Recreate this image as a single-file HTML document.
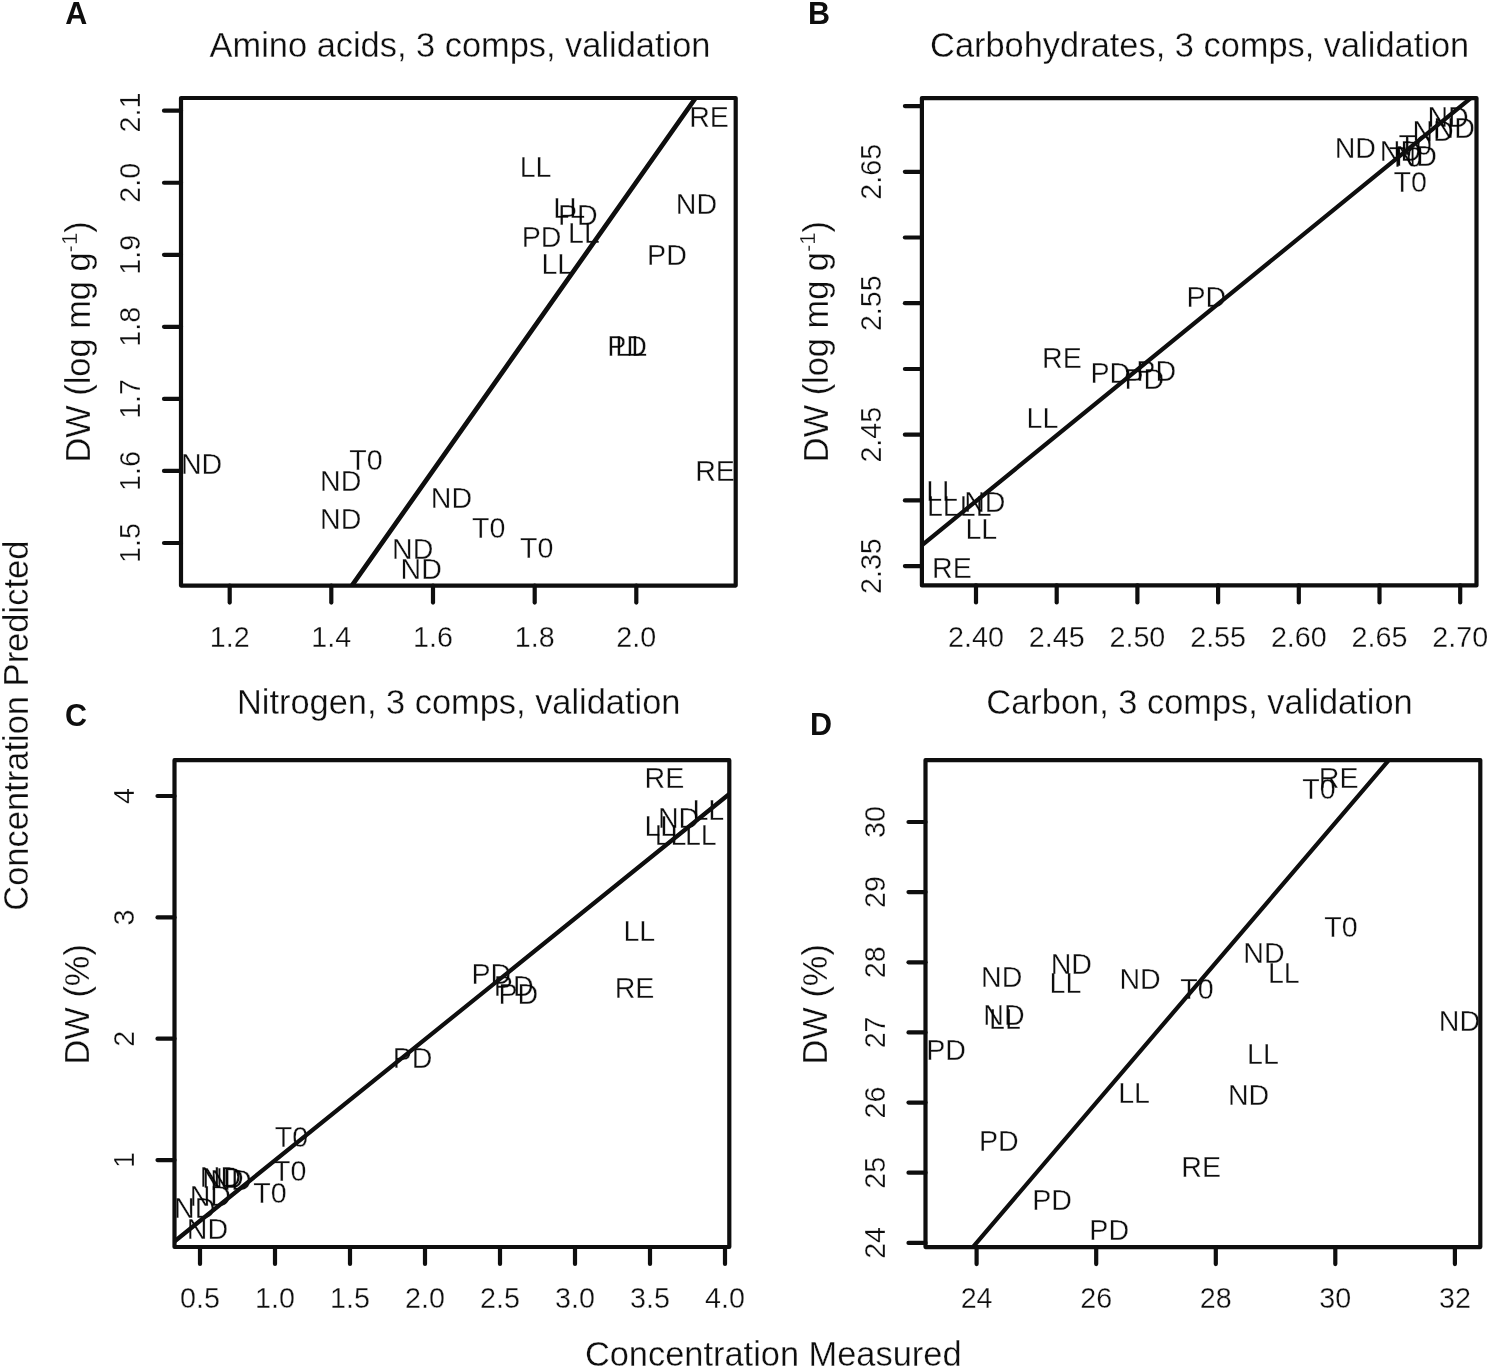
<!DOCTYPE html>
<html><head><meta charset="utf-8"><title>Figure</title>
<style>html,body{margin:0;padding:0;background:#fff}svg{display:block}
text{font-family:"Liberation Sans", sans-serif;fill:#0e0e0e;stroke:#fff;stroke-width:0.3px;paint-order:fill stroke;mix-blend-mode:multiply}line,rect.b{stroke:#0e0e0e}</style></head>
<body><svg width="1487" height="1368" viewBox="0 0 1487 1368">
<rect x="0" y="0" width="1487" height="1368" fill="#fff" stroke="none"/>
<clipPath id="cA"><rect x="181.0" y="98.0" width="554.7" height="487.6"/></clipPath>
<text transform="translate(709.00 126.64) scale(1 1.04)" font-size="28.6" text-anchor="middle">RE</text>
<text transform="translate(535.60 177.24) scale(1 1.04)" font-size="28.6" text-anchor="middle">LL</text>
<text transform="translate(696.40 213.99) scale(1 1.04)" font-size="28.6" text-anchor="middle">ND</text>
<text transform="translate(569.15 218.34) scale(1 1.04)" font-size="28.6" text-anchor="middle">LL</text>
<text transform="translate(577.80 225.29) scale(1 1.04)" font-size="28.6" text-anchor="middle">PD</text>
<text transform="translate(541.50 247.24) scale(1 1.04)" font-size="28.6" text-anchor="middle">PD</text>
<text transform="translate(584.00 243.44) scale(1 1.04)" font-size="28.6" text-anchor="middle">LL</text>
<text transform="translate(666.95 264.84) scale(1 1.04)" font-size="28.6" text-anchor="middle">PD</text>
<text transform="translate(557.35 274.14) scale(1 1.04)" font-size="28.6" text-anchor="middle">LL</text>
<text transform="translate(627.10 356.44) scale(1 1.04)" font-size="28.6" text-anchor="middle">PD</text>
<text transform="translate(631.20 356.34) scale(1 1.04)" font-size="28.6" text-anchor="middle">LL</text>
<text transform="translate(201.60 474.24) scale(1 1.04)" font-size="28.6" text-anchor="middle">ND</text>
<text transform="translate(365.90 470.04) scale(1 1.04)" font-size="28.6" text-anchor="middle">T0</text>
<text transform="translate(340.70 491.04) scale(1 1.04)" font-size="28.6" text-anchor="middle">ND</text>
<text transform="translate(715.00 480.84) scale(1 1.04)" font-size="28.6" text-anchor="middle">RE</text>
<text transform="translate(451.40 508.14) scale(1 1.04)" font-size="28.6" text-anchor="middle">ND</text>
<text transform="translate(340.70 528.84) scale(1 1.04)" font-size="28.6" text-anchor="middle">ND</text>
<text transform="translate(488.80 538.14) scale(1 1.04)" font-size="28.6" text-anchor="middle">T0</text>
<text transform="translate(536.70 558.14) scale(1 1.04)" font-size="28.6" text-anchor="middle">T0</text>
<text transform="translate(412.70 558.94) scale(1 1.04)" font-size="28.6" text-anchor="middle">ND</text>
<text transform="translate(421.20 578.54) scale(1 1.04)" font-size="28.6" text-anchor="middle">ND</text>
<g clip-path="url(#cA)">
<line x1="351.90" y1="585.60" x2="695.60" y2="98.00" stroke-width="4.7" stroke-linecap="round"/>
</g>
<rect x="181.0" y="98.0" width="554.7" height="487.6" fill="none" class="b" stroke-width="4.2" stroke-linejoin="round"/>
<line x1="229.70" y1="585.60" x2="229.70" y2="602.60" stroke-width="4.2" stroke-linecap="round"/>
<text transform="translate(229.70 647.20) scale(1 1.04)" font-size="28.7" text-anchor="middle">1.2</text>
<line x1="331.30" y1="585.60" x2="331.30" y2="602.60" stroke-width="4.2" stroke-linecap="round"/>
<text transform="translate(331.30 647.20) scale(1 1.04)" font-size="28.7" text-anchor="middle">1.4</text>
<line x1="433.00" y1="585.60" x2="433.00" y2="602.60" stroke-width="4.2" stroke-linecap="round"/>
<text transform="translate(433.00 647.20) scale(1 1.04)" font-size="28.7" text-anchor="middle">1.6</text>
<line x1="534.70" y1="585.60" x2="534.70" y2="602.60" stroke-width="4.2" stroke-linecap="round"/>
<text transform="translate(534.70 647.20) scale(1 1.04)" font-size="28.7" text-anchor="middle">1.8</text>
<line x1="636.30" y1="585.60" x2="636.30" y2="602.60" stroke-width="4.2" stroke-linecap="round"/>
<text transform="translate(636.30 647.20) scale(1 1.04)" font-size="28.7" text-anchor="middle">2.0</text>
<line x1="164.00" y1="110.70" x2="181.00" y2="110.70" stroke-width="4.2" stroke-linecap="round"/>
<text transform="translate(140.40 112.50) rotate(-90) scale(1 1.04)" font-size="28.7" text-anchor="middle">2.1</text>
<line x1="164.00" y1="182.75" x2="181.00" y2="182.75" stroke-width="4.2" stroke-linecap="round"/>
<text transform="translate(140.40 182.75) rotate(-90) scale(1 1.04)" font-size="28.7" text-anchor="middle">2.0</text>
<line x1="164.00" y1="254.80" x2="181.00" y2="254.80" stroke-width="4.2" stroke-linecap="round"/>
<text transform="translate(140.40 254.80) rotate(-90) scale(1 1.04)" font-size="28.7" text-anchor="middle">1.9</text>
<line x1="164.00" y1="326.85" x2="181.00" y2="326.85" stroke-width="4.2" stroke-linecap="round"/>
<text transform="translate(140.40 326.85) rotate(-90) scale(1 1.04)" font-size="28.7" text-anchor="middle">1.8</text>
<line x1="164.00" y1="398.90" x2="181.00" y2="398.90" stroke-width="4.2" stroke-linecap="round"/>
<text transform="translate(140.40 398.90) rotate(-90) scale(1 1.04)" font-size="28.7" text-anchor="middle">1.7</text>
<line x1="164.00" y1="470.95" x2="181.00" y2="470.95" stroke-width="4.2" stroke-linecap="round"/>
<text transform="translate(140.40 470.95) rotate(-90) scale(1 1.04)" font-size="28.7" text-anchor="middle">1.6</text>
<line x1="164.00" y1="543.00" x2="181.00" y2="543.00" stroke-width="4.2" stroke-linecap="round"/>
<text transform="translate(140.40 543.00) rotate(-90) scale(1 1.04)" font-size="28.7" text-anchor="middle">1.5</text>
<text transform="translate(460.00 57.20)" font-size="34.4" text-anchor="middle">Amino acids, 3 comps, validation</text>
<text transform="translate(90.00 342.00) rotate(-90)" font-size="34.4" text-anchor="middle">DW (log mg g<tspan dy="-13" font-size="22">-1</tspan><tspan dy="13">)</tspan></text>
<text transform="translate(65.30 24.40)" font-size="30.5" text-anchor="start" font-weight="bold" stroke="none" style="stroke:none">A</text>
<clipPath id="cB"><rect x="921.9" y="98.1" width="554.6" height="487.29999999999995"/></clipPath>
<text transform="translate(1448.10 126.74) scale(1 1.04)" font-size="28.6" text-anchor="middle">ND</text>
<text transform="translate(1433.10 140.54) scale(1 1.04)" font-size="28.6" text-anchor="middle">ND</text>
<text transform="translate(1454.20 138.14) scale(1 1.04)" font-size="28.6" text-anchor="middle">ND</text>
<text transform="translate(1355.30 158.04) scale(1 1.04)" font-size="28.6" text-anchor="middle">ND</text>
<text transform="translate(1415.20 154.64) scale(1 1.04)" font-size="28.6" text-anchor="middle">T0</text>
<text transform="translate(1405.40 167.24) scale(1 1.04)" font-size="28.6" text-anchor="middle">T0</text>
<text transform="translate(1400.50 161.14) scale(1 1.04)" font-size="28.6" text-anchor="middle">ND</text>
<text transform="translate(1416.20 165.64) scale(1 1.04)" font-size="28.6" text-anchor="middle">ND</text>
<text transform="translate(1410.10 191.74) scale(1 1.04)" font-size="28.6" text-anchor="middle">T0</text>
<text transform="translate(1206.30 307.24) scale(1 1.04)" font-size="28.6" text-anchor="middle">PD</text>
<text transform="translate(1061.85 367.94) scale(1 1.04)" font-size="28.6" text-anchor="middle">RE</text>
<text transform="translate(1110.30 383.04) scale(1 1.04)" font-size="28.6" text-anchor="middle">PD</text>
<text transform="translate(1156.20 381.24) scale(1 1.04)" font-size="28.6" text-anchor="middle">PD</text>
<text transform="translate(1144.40 388.64) scale(1 1.04)" font-size="28.6" text-anchor="middle">PD</text>
<text transform="translate(1042.45 428.44) scale(1 1.04)" font-size="28.6" text-anchor="middle">LL</text>
<text transform="translate(942.10 501.24) scale(1 1.04)" font-size="28.6" text-anchor="middle">LL</text>
<text transform="translate(984.80 511.99) scale(1 1.04)" font-size="28.6" text-anchor="middle">ND</text>
<text transform="translate(942.80 515.74) scale(1 1.04)" font-size="28.6" text-anchor="middle">LL</text>
<text transform="translate(975.70 515.74) scale(1 1.04)" font-size="28.6" text-anchor="middle">LL</text>
<text transform="translate(981.30 538.94) scale(1 1.04)" font-size="28.6" text-anchor="middle">LL</text>
<text transform="translate(951.85 577.94) scale(1 1.04)" font-size="28.6" text-anchor="middle">RE</text>
<g clip-path="url(#cB)">
<line x1="921.80" y1="545.30" x2="1470.80" y2="98.10" stroke-width="4.2" stroke-linecap="round"/>
</g>
<rect x="921.9" y="98.1" width="554.6" height="487.29999999999995" fill="none" class="b" stroke-width="4.2" stroke-linejoin="round"/>
<line x1="976.00" y1="585.40" x2="976.00" y2="602.40" stroke-width="4.2" stroke-linecap="round"/>
<text transform="translate(976.00 647.20) scale(1 1.04)" font-size="28.7" text-anchor="middle">2.40</text>
<line x1="1056.70" y1="585.40" x2="1056.70" y2="602.40" stroke-width="4.2" stroke-linecap="round"/>
<text transform="translate(1056.70 647.20) scale(1 1.04)" font-size="28.7" text-anchor="middle">2.45</text>
<line x1="1137.40" y1="585.40" x2="1137.40" y2="602.40" stroke-width="4.2" stroke-linecap="round"/>
<text transform="translate(1137.40 647.20) scale(1 1.04)" font-size="28.7" text-anchor="middle">2.50</text>
<line x1="1218.10" y1="585.40" x2="1218.10" y2="602.40" stroke-width="4.2" stroke-linecap="round"/>
<text transform="translate(1218.10 647.20) scale(1 1.04)" font-size="28.7" text-anchor="middle">2.55</text>
<line x1="1298.80" y1="585.40" x2="1298.80" y2="602.40" stroke-width="4.2" stroke-linecap="round"/>
<text transform="translate(1298.80 647.20) scale(1 1.04)" font-size="28.7" text-anchor="middle">2.60</text>
<line x1="1379.50" y1="585.40" x2="1379.50" y2="602.40" stroke-width="4.2" stroke-linecap="round"/>
<text transform="translate(1379.50 647.20) scale(1 1.04)" font-size="28.7" text-anchor="middle">2.65</text>
<line x1="1460.20" y1="585.40" x2="1460.20" y2="602.40" stroke-width="4.2" stroke-linecap="round"/>
<text transform="translate(1460.20 647.20) scale(1 1.04)" font-size="28.7" text-anchor="middle">2.70</text>
<line x1="904.90" y1="106.10" x2="921.90" y2="106.10" stroke-width="4.2" stroke-linecap="round"/>
<line x1="904.90" y1="171.80" x2="921.90" y2="171.80" stroke-width="4.2" stroke-linecap="round"/>
<text transform="translate(880.60 171.80) rotate(-90) scale(1 1.04)" font-size="28.7" text-anchor="middle">2.65</text>
<line x1="904.90" y1="237.50" x2="921.90" y2="237.50" stroke-width="4.2" stroke-linecap="round"/>
<line x1="904.90" y1="303.20" x2="921.90" y2="303.20" stroke-width="4.2" stroke-linecap="round"/>
<text transform="translate(880.60 303.20) rotate(-90) scale(1 1.04)" font-size="28.7" text-anchor="middle">2.55</text>
<line x1="904.90" y1="369.00" x2="921.90" y2="369.00" stroke-width="4.2" stroke-linecap="round"/>
<line x1="904.90" y1="434.70" x2="921.90" y2="434.70" stroke-width="4.2" stroke-linecap="round"/>
<text transform="translate(880.60 434.70) rotate(-90) scale(1 1.04)" font-size="28.7" text-anchor="middle">2.45</text>
<line x1="904.90" y1="500.40" x2="921.90" y2="500.40" stroke-width="4.2" stroke-linecap="round"/>
<line x1="904.90" y1="566.10" x2="921.90" y2="566.10" stroke-width="4.2" stroke-linecap="round"/>
<text transform="translate(880.60 566.10) rotate(-90) scale(1 1.04)" font-size="28.7" text-anchor="middle">2.35</text>
<text transform="translate(1199.60 57.30)" font-size="34.4" text-anchor="middle">Carbohydrates, 3 comps, validation</text>
<text transform="translate(827.80 341.60) rotate(-90)" font-size="34.4" text-anchor="middle">DW (log mg g<tspan dy="-13" font-size="22">-1</tspan><tspan dy="13">)</tspan></text>
<text transform="translate(807.90 24.40)" font-size="30.5" text-anchor="start" font-weight="bold" stroke="none" style="stroke:none">B</text>
<clipPath id="cC"><rect x="174.5" y="760.2" width="554.8" height="486.79999999999995"/></clipPath>
<text transform="translate(664.35 788.29) scale(1 1.04)" font-size="28.6" text-anchor="middle">RE</text>
<text transform="translate(708.30 820.24) scale(1 1.04)" font-size="28.6" text-anchor="middle">LL</text>
<text transform="translate(678.60 828.24) scale(1 1.04)" font-size="28.6" text-anchor="middle">ND</text>
<text transform="translate(660.30 836.24) scale(1 1.04)" font-size="28.6" text-anchor="middle">LL</text>
<text transform="translate(670.60 844.94) scale(1 1.04)" font-size="28.6" text-anchor="middle">LL</text>
<text transform="translate(700.80 844.94) scale(1 1.04)" font-size="28.6" text-anchor="middle">LL</text>
<text transform="translate(639.30 941.24) scale(1 1.04)" font-size="28.6" text-anchor="middle">LL</text>
<text transform="translate(491.40 984.44) scale(1 1.04)" font-size="28.6" text-anchor="middle">PD</text>
<text transform="translate(513.70 995.84) scale(1 1.04)" font-size="28.6" text-anchor="middle">PD</text>
<text transform="translate(518.30 1003.64) scale(1 1.04)" font-size="28.6" text-anchor="middle">PD</text>
<text transform="translate(634.55 998.14) scale(1 1.04)" font-size="28.6" text-anchor="middle">RE</text>
<text transform="translate(412.50 1067.84) scale(1 1.04)" font-size="28.6" text-anchor="middle">PD</text>
<text transform="translate(291.50 1146.94) scale(1 1.04)" font-size="28.6" text-anchor="middle">T0</text>
<text transform="translate(289.60 1181.14) scale(1 1.04)" font-size="28.6" text-anchor="middle">T0</text>
<text transform="translate(270.00 1202.94) scale(1 1.04)" font-size="28.6" text-anchor="middle">T0</text>
<text transform="translate(220.50 1186.54) scale(1 1.04)" font-size="28.6" text-anchor="middle">ND</text>
<text transform="translate(223.00 1187.74) scale(1 1.04)" font-size="28.6" text-anchor="middle">ND</text>
<text transform="translate(230.90 1190.24) scale(1 1.04)" font-size="28.6" text-anchor="middle">ND</text>
<text transform="translate(210.30 1206.44) scale(1 1.04)" font-size="28.6" text-anchor="middle">ND</text>
<text transform="translate(194.70 1218.24) scale(1 1.04)" font-size="28.6" text-anchor="middle">ND</text>
<text transform="translate(207.40 1239.04) scale(1 1.04)" font-size="28.6" text-anchor="middle">ND</text>
<g clip-path="url(#cC)">
<line x1="174.40" y1="1241.50" x2="729.30" y2="794.00" stroke-width="4.2" stroke-linecap="round"/>
</g>
<rect x="174.5" y="760.2" width="554.8" height="486.79999999999995" fill="none" class="b" stroke-width="4.2" stroke-linejoin="round"/>
<line x1="200.00" y1="1247.00" x2="200.00" y2="1264.00" stroke-width="4.2" stroke-linecap="round"/>
<text transform="translate(200.00 1308.40) scale(1 1.04)" font-size="28.7" text-anchor="middle">0.5</text>
<line x1="275.00" y1="1247.00" x2="275.00" y2="1264.00" stroke-width="4.2" stroke-linecap="round"/>
<text transform="translate(275.00 1308.40) scale(1 1.04)" font-size="28.7" text-anchor="middle">1.0</text>
<line x1="350.00" y1="1247.00" x2="350.00" y2="1264.00" stroke-width="4.2" stroke-linecap="round"/>
<text transform="translate(350.00 1308.40) scale(1 1.04)" font-size="28.7" text-anchor="middle">1.5</text>
<line x1="425.00" y1="1247.00" x2="425.00" y2="1264.00" stroke-width="4.2" stroke-linecap="round"/>
<text transform="translate(425.00 1308.40) scale(1 1.04)" font-size="28.7" text-anchor="middle">2.0</text>
<line x1="500.00" y1="1247.00" x2="500.00" y2="1264.00" stroke-width="4.2" stroke-linecap="round"/>
<text transform="translate(500.00 1308.40) scale(1 1.04)" font-size="28.7" text-anchor="middle">2.5</text>
<line x1="575.00" y1="1247.00" x2="575.00" y2="1264.00" stroke-width="4.2" stroke-linecap="round"/>
<text transform="translate(575.00 1308.40) scale(1 1.04)" font-size="28.7" text-anchor="middle">3.0</text>
<line x1="650.00" y1="1247.00" x2="650.00" y2="1264.00" stroke-width="4.2" stroke-linecap="round"/>
<text transform="translate(650.00 1308.40) scale(1 1.04)" font-size="28.7" text-anchor="middle">3.5</text>
<line x1="725.00" y1="1247.00" x2="725.00" y2="1264.00" stroke-width="4.2" stroke-linecap="round"/>
<text transform="translate(725.00 1308.40) scale(1 1.04)" font-size="28.7" text-anchor="middle">4.0</text>
<line x1="157.50" y1="796.00" x2="174.50" y2="796.00" stroke-width="4.2" stroke-linecap="round"/>
<text transform="translate(134.00 796.00) rotate(-90) scale(1 1.04)" font-size="28.7" text-anchor="middle">4</text>
<line x1="157.50" y1="917.40" x2="174.50" y2="917.40" stroke-width="4.2" stroke-linecap="round"/>
<text transform="translate(134.00 917.40) rotate(-90) scale(1 1.04)" font-size="28.7" text-anchor="middle">3</text>
<line x1="157.50" y1="1038.70" x2="174.50" y2="1038.70" stroke-width="4.2" stroke-linecap="round"/>
<text transform="translate(134.00 1038.70) rotate(-90) scale(1 1.04)" font-size="28.7" text-anchor="middle">2</text>
<line x1="157.50" y1="1160.10" x2="174.50" y2="1160.10" stroke-width="4.2" stroke-linecap="round"/>
<text transform="translate(134.00 1160.10) rotate(-90) scale(1 1.04)" font-size="28.7" text-anchor="middle">1</text>
<text transform="translate(458.70 713.50)" font-size="34.4" text-anchor="middle">Nitrogen, 3 comps, validation</text>
<text transform="translate(88.60 1004.30) rotate(-90)" font-size="34.4" text-anchor="middle">DW (%)</text>
<text transform="translate(64.90 725.90)" font-size="30.5" text-anchor="start" font-weight="bold" stroke="none" style="stroke:none">C</text>
<clipPath id="cD"><rect x="925.5" y="760.1" width="554.8" height="486.9999999999999"/></clipPath>
<text transform="translate(1338.65 787.74) scale(1 1.04)" font-size="28.6" text-anchor="middle">RE</text>
<text transform="translate(1319.00 798.74) scale(1 1.04)" font-size="28.6" text-anchor="middle">T0</text>
<text transform="translate(1340.90 937.44) scale(1 1.04)" font-size="28.6" text-anchor="middle">T0</text>
<text transform="translate(1264.00 962.64) scale(1 1.04)" font-size="28.6" text-anchor="middle">ND</text>
<text transform="translate(1071.30 973.84) scale(1 1.04)" font-size="28.6" text-anchor="middle">ND</text>
<text transform="translate(1001.70 986.84) scale(1 1.04)" font-size="28.6" text-anchor="middle">ND</text>
<text transform="translate(1065.50 993.24) scale(1 1.04)" font-size="28.6" text-anchor="middle">LL</text>
<text transform="translate(1140.05 988.64) scale(1 1.04)" font-size="28.6" text-anchor="middle">ND</text>
<text transform="translate(1283.80 982.94) scale(1 1.04)" font-size="28.6" text-anchor="middle">LL</text>
<text transform="translate(1196.90 998.74) scale(1 1.04)" font-size="28.6" text-anchor="middle">T0</text>
<text transform="translate(1003.90 1024.94) scale(1 1.04)" font-size="28.6" text-anchor="middle">ND</text>
<text transform="translate(1005.00 1028.54) scale(1 1.04)" font-size="28.6" text-anchor="middle">LL</text>
<text transform="translate(1459.50 1030.94) scale(1 1.04)" font-size="28.6" text-anchor="middle">ND</text>
<text transform="translate(946.00 1059.54) scale(1 1.04)" font-size="28.6" text-anchor="middle">PD</text>
<text transform="translate(1263.00 1063.94) scale(1 1.04)" font-size="28.6" text-anchor="middle">LL</text>
<text transform="translate(1134.10 1103.34) scale(1 1.04)" font-size="28.6" text-anchor="middle">LL</text>
<text transform="translate(1248.55 1105.34) scale(1 1.04)" font-size="28.6" text-anchor="middle">ND</text>
<text transform="translate(998.80 1151.14) scale(1 1.04)" font-size="28.6" text-anchor="middle">PD</text>
<text transform="translate(1201.10 1176.84) scale(1 1.04)" font-size="28.6" text-anchor="middle">RE</text>
<text transform="translate(1052.00 1209.54) scale(1 1.04)" font-size="28.6" text-anchor="middle">PD</text>
<text transform="translate(1109.20 1239.64) scale(1 1.04)" font-size="28.6" text-anchor="middle">PD</text>
<g clip-path="url(#cD)">
<line x1="972.90" y1="1247.10" x2="1389.00" y2="759.90" stroke-width="4.2" stroke-linecap="round"/>
</g>
<rect x="925.5" y="760.1" width="554.8" height="486.9999999999999" fill="none" class="b" stroke-width="4.2" stroke-linejoin="round"/>
<line x1="976.60" y1="1247.10" x2="976.60" y2="1264.10" stroke-width="4.2" stroke-linecap="round"/>
<text transform="translate(976.60 1308.40) scale(1 1.04)" font-size="28.7" text-anchor="middle">24</text>
<line x1="1096.20" y1="1247.10" x2="1096.20" y2="1264.10" stroke-width="4.2" stroke-linecap="round"/>
<text transform="translate(1096.20 1308.40) scale(1 1.04)" font-size="28.7" text-anchor="middle">26</text>
<line x1="1215.80" y1="1247.10" x2="1215.80" y2="1264.10" stroke-width="4.2" stroke-linecap="round"/>
<text transform="translate(1215.80 1308.40) scale(1 1.04)" font-size="28.7" text-anchor="middle">28</text>
<line x1="1335.30" y1="1247.10" x2="1335.30" y2="1264.10" stroke-width="4.2" stroke-linecap="round"/>
<text transform="translate(1335.30 1308.40) scale(1 1.04)" font-size="28.7" text-anchor="middle">30</text>
<line x1="1454.90" y1="1247.10" x2="1454.90" y2="1264.10" stroke-width="4.2" stroke-linecap="round"/>
<text transform="translate(1454.90 1308.40) scale(1 1.04)" font-size="28.7" text-anchor="middle">32</text>
<line x1="908.50" y1="822.00" x2="925.50" y2="822.00" stroke-width="4.2" stroke-linecap="round"/>
<text transform="translate(885.20 822.00) rotate(-90) scale(1 1.04)" font-size="28.7" text-anchor="middle">30</text>
<line x1="908.50" y1="892.10" x2="925.50" y2="892.10" stroke-width="4.2" stroke-linecap="round"/>
<text transform="translate(885.20 892.10) rotate(-90) scale(1 1.04)" font-size="28.7" text-anchor="middle">29</text>
<line x1="908.50" y1="962.30" x2="925.50" y2="962.30" stroke-width="4.2" stroke-linecap="round"/>
<text transform="translate(885.20 962.30) rotate(-90) scale(1 1.04)" font-size="28.7" text-anchor="middle">28</text>
<line x1="908.50" y1="1032.40" x2="925.50" y2="1032.40" stroke-width="4.2" stroke-linecap="round"/>
<text transform="translate(885.20 1032.40) rotate(-90) scale(1 1.04)" font-size="28.7" text-anchor="middle">27</text>
<line x1="908.50" y1="1102.60" x2="925.50" y2="1102.60" stroke-width="4.2" stroke-linecap="round"/>
<text transform="translate(885.20 1102.60) rotate(-90) scale(1 1.04)" font-size="28.7" text-anchor="middle">26</text>
<line x1="908.50" y1="1172.70" x2="925.50" y2="1172.70" stroke-width="4.2" stroke-linecap="round"/>
<text transform="translate(885.20 1172.70) rotate(-90) scale(1 1.04)" font-size="28.7" text-anchor="middle">25</text>
<line x1="908.50" y1="1242.90" x2="925.50" y2="1242.90" stroke-width="4.2" stroke-linecap="round"/>
<text transform="translate(885.20 1242.90) rotate(-90) scale(1 1.04)" font-size="28.7" text-anchor="middle">24</text>
<text transform="translate(1199.50 713.80)" font-size="34.4" text-anchor="middle">Carbon, 3 comps, validation</text>
<text transform="translate(827.20 1004.30) rotate(-90)" font-size="34.4" text-anchor="middle">DW (%)</text>
<text transform="translate(810.00 735.40)" font-size="30.5" text-anchor="start" font-weight="bold" stroke="none" style="stroke:none">D</text>
<text transform="translate(27.60 725.70) rotate(-90)" font-size="34.5" text-anchor="middle">Concentration Predicted</text>
<text transform="translate(773.20 1365.50)" font-size="34.4" text-anchor="middle">Concentration Measured</text>
</svg></body></html>
